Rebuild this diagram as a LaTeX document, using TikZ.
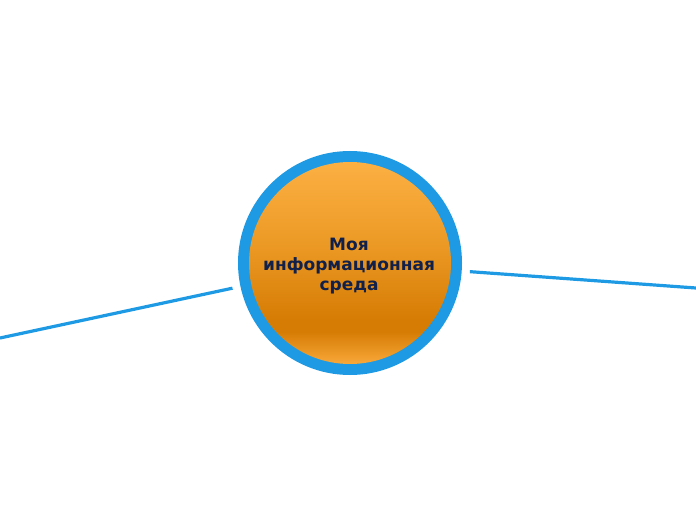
\documentclass[tikz,border=0pt]{standalone}
\usepackage{fontspec}
\setmainfont{DejaVu Sans}
\definecolor{ringblue}{HTML}{1E9AE4}
\definecolor{txtnavy}{HTML}{10204A}
\definecolor{orA}{HTML}{FCB042}
\definecolor{orB}{HTML}{EC9A26}
\definecolor{orC}{HTML}{D67C04}
\definecolor{orD}{HTML}{F8A83A}
\pgfdeclareverticalshading{orangeball}{100bp}{color(0bp)=(orD); color(25bp)=(orD); color(33bp)=(orC); color(36bp)=(orC); color(55bp)=(orB); color(75bp)=(orA); color(100bp)=(orA)}
\tikzset{
  link/.style={draw=ringblue, line width=3.2bp},
  hub/.style={circle, minimum size=240bp, inner sep=0pt, draw=none},
  hubtext/.style={text=txtnavy, font=\bfseries\fontsize{17bp}{20bp}\selectfont, align=center}
}
\begin{document}
\begin{tikzpicture}[x=1bp,y=-1bp]
\useasboundingbox (0,0) rectangle (696,520);
\fill[ringblue] (350,263) circle[radius=112bp];
\shade[shading=orangeball] (350,263) circle[radius=101bp];
\node[hub] (c) at (350,263) {};
\node[hubtext] (t) at (349,266) {Моя\\информационная\\среда};
\coordinate (l) at (0,338);
\coordinate (r) at (696,288);
\draw[link] (c) -- (l);
\draw[link] (c) -- (r);
\end{tikzpicture}
\end{document}
